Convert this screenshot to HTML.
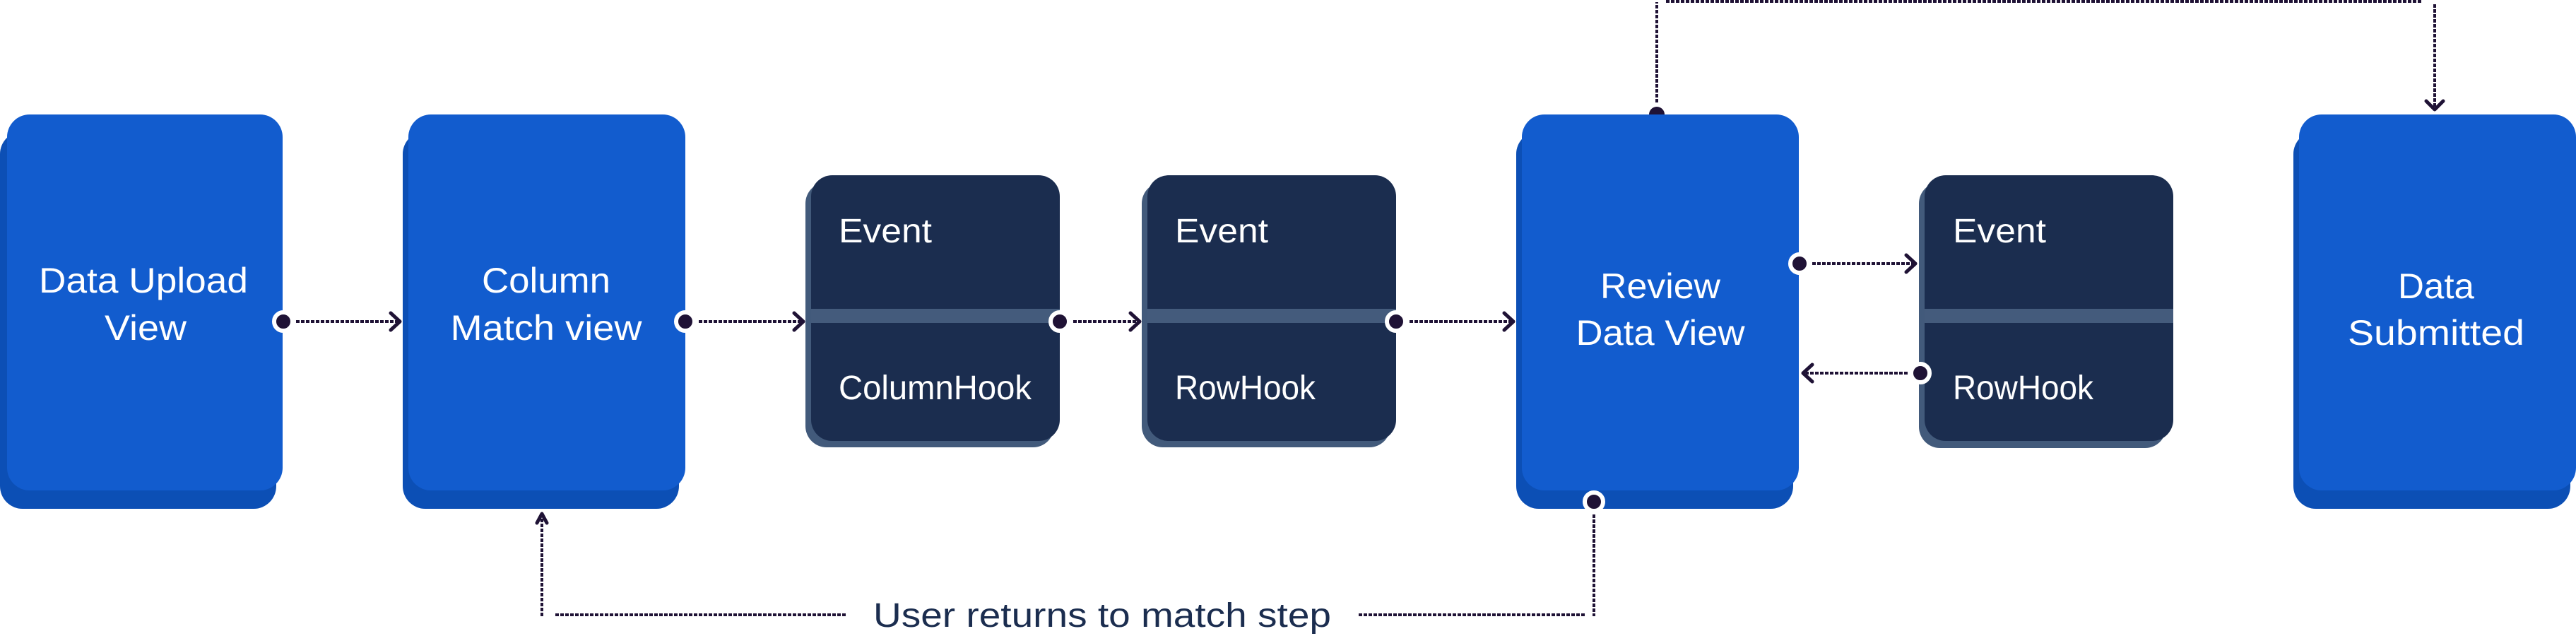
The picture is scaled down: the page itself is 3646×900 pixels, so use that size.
<!DOCTYPE html>
<html><head><meta charset="utf-8"><style>
html,body{margin:0;padding:0;background:#fff;}
svg{display:block;}
text{font-family:"Liberation Sans",sans-serif;}
</style></head><body>
<svg width="3646" height="900" viewBox="0 0 3646 900" xmlns="http://www.w3.org/2000/svg">
<defs>
<g id="dot"><circle r="13" fill="#1f1235" stroke="#fff" stroke-width="6"/></g>
</defs>
<!-- top dot partly hidden behind box -->
<circle cx="2345" cy="162" r="11" fill="#1f1235"/>
<!-- blue boxes -->
<g>
<rect x="0" y="186" width="391" height="534" rx="32" fill="#0c4fb5"/>
<rect x="10" y="162" width="390" height="532" rx="32" fill="#125cce"/>
<rect x="570" y="186" width="391" height="534" rx="32" fill="#0c4fb5"/>
<rect x="578" y="162" width="392" height="532" rx="32" fill="#125cce"/>
<rect x="2146" y="186" width="392" height="534" rx="32" fill="#0c4fb5"/>
<rect x="2154" y="162" width="392" height="532" rx="32" fill="#125cce"/>
<rect x="3246" y="186" width="392" height="534" rx="32" fill="#0c4fb5"/>
<rect x="3254" y="162" width="392" height="532" rx="32" fill="#125cce"/>
</g>
<!-- event boxes -->
<g>
<rect x="1140" y="258" width="352" height="375" rx="30" fill="#425a7b"/>
<rect x="1148" y="248" width="352" height="376" rx="30" fill="#1b2d4f"/>
<rect x="1148" y="437" width="352" height="20" fill="#445b7c"/>
<rect x="1616" y="258" width="352" height="375" rx="30" fill="#425a7b"/>
<rect x="1624" y="248" width="352" height="376" rx="30" fill="#1b2d4f"/>
<rect x="1624" y="437" width="352" height="20" fill="#445b7c"/>
<rect x="2716" y="258" width="350" height="376" rx="30" fill="#425a7b"/>
<rect x="2724" y="248" width="352" height="376" rx="30" fill="#1b2d4f"/>
<rect x="2724" y="437" width="352" height="20" fill="#445b7c"/>
</g>
<!-- labels -->
<g fill="#fff" font-size="50" text-anchor="middle">
<text x="203" y="414" textLength="296" lengthAdjust="spacingAndGlyphs">Data Upload</text>
<text x="206" y="481" textLength="116" lengthAdjust="spacingAndGlyphs">View</text>
<text x="773" y="414" textLength="182" lengthAdjust="spacingAndGlyphs">Column</text>
<text x="773" y="481" textLength="271" lengthAdjust="spacingAndGlyphs">Match view</text>
<text x="2350" y="422" textLength="170" lengthAdjust="spacingAndGlyphs">Review</text>
<text x="2350" y="488" textLength="239" lengthAdjust="spacingAndGlyphs">Data View</text>
<text x="3448" y="422" textLength="108" lengthAdjust="spacingAndGlyphs">Data</text>
<text x="3448" y="488" textLength="250" lengthAdjust="spacingAndGlyphs">Submitted</text>
</g>
<g fill="#fff" font-size="48">
<text x="1187" y="343" textLength="132" lengthAdjust="spacingAndGlyphs">Event</text>
<text x="1187" y="565" textLength="273" lengthAdjust="spacingAndGlyphs">ColumnHook</text>
<text x="1663" y="343" textLength="132" lengthAdjust="spacingAndGlyphs">Event</text>
<text x="1663" y="565" textLength="199" lengthAdjust="spacingAndGlyphs">RowHook</text>
<text x="2764" y="343" textLength="132" lengthAdjust="spacingAndGlyphs">Event</text>
<text x="2764" y="565" textLength="199" lengthAdjust="spacingAndGlyphs">RowHook</text>
</g>
<text x="1236" y="887" font-size="48" fill="#1b2d4f" textLength="648" lengthAdjust="spacingAndGlyphs">User returns to match step</text>
<!-- connectors -->
<g stroke="#1f1235" stroke-width="4" fill="none" stroke-dasharray="5 2">
<line x1="419" y1="455" x2="564" y2="455"/>
<line x1="989" y1="455" x2="1134" y2="455"/>
<line x1="1519" y1="455" x2="1610" y2="455"/>
<line x1="1995" y1="455" x2="2139" y2="455"/>
<line x1="2565" y1="373" x2="2708" y2="373"/>
<line x1="2700" y1="528" x2="2556" y2="528"/>
<line x1="2345" y1="145" x2="2345" y2="3"/>
<line x1="2358" y1="2" x2="3429" y2="2"/>
<line x1="3446" y1="6" x2="3446" y2="152"/>
<line x1="2256" y1="728" x2="2256" y2="872"/>
<line x1="2243" y1="870" x2="1922" y2="870"/>
<line x1="1197" y1="870" x2="784" y2="870"/>
<line x1="767" y1="872" x2="767" y2="729"/>
</g>
<g stroke="#1f1235" stroke-width="5" fill="none" stroke-linecap="round" stroke-linejoin="round">
<polyline points="553,443 566,455 553,467"/>
<polyline points="1124,443 1137,455 1124,467"/>
<polyline points="1600,443 1613,455 1600,467"/>
<polyline points="2129,443 2142,455 2129,467"/>
<polyline points="2698,361 2711,373 2698,385"/>
<polyline points="2565,516 2552,528 2565,540"/>
<polyline points="3434,143 3446,155 3458,143"/>
<polyline points="760,740 767,727 774,740"/>
</g>
<g>
<use href="#dot" x="401" y="455"/>
<use href="#dot" x="970" y="455"/>
<use href="#dot" x="1500" y="455"/>
<use href="#dot" x="1976" y="455"/>
<use href="#dot" x="2547" y="373"/>
<use href="#dot" x="2718" y="528"/>
<use href="#dot" x="2256" y="710"/>
</g>
</svg>
</body></html>
